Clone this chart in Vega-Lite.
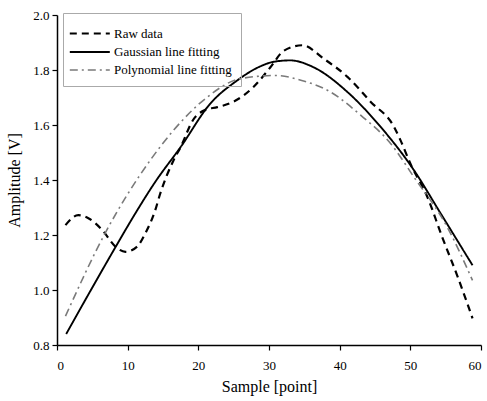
{
  "$schema": "https://vega.github.io/schema/vega-lite/v6.json",
  "width": 424,
  "height": 330,
  "autosize": {"type": "none"},
  "padding": {"left": 57, "top": 15, "right": 6, "bottom": 56},
  "background": "white",
  "config": {
    "view": {"stroke": null},
    "font": "Liberation Serif",
    "axis": {"grid": false, "domainColor": "black", "tickColor": "black", "labelColor": "black", "titleColor": "black", "labelFont": "Liberation Serif", "titleFont": "Liberation Serif", "titleFontWeight": "normal", "labelFontSize": 13, "titleFontSize": 16, "domainWidth": 1.5, "tickWidth": 1.2},
    "legend": {"labelFont": "Liberation Serif"}
  },
  "data": {"values": [
    {"series": "Raw data", "x": 1.2, "y": 1.236},
    {"series": "Raw data", "x": 3.0, "y": 1.272},
    {"series": "Raw data", "x": 4.5, "y": 1.26},
    {"series": "Raw data", "x": 6.4, "y": 1.218},
    {"series": "Raw data", "x": 8.3, "y": 1.157},
    {"series": "Raw data", "x": 9.7, "y": 1.139},
    {"series": "Raw data", "x": 11.3, "y": 1.157},
    {"series": "Raw data", "x": 12.5, "y": 1.206},
    {"series": "Raw data", "x": 13.9, "y": 1.29},
    {"series": "Raw data", "x": 14.6, "y": 1.35},
    {"series": "Raw data", "x": 16.5, "y": 1.472},
    {"series": "Raw data", "x": 17.5, "y": 1.52},
    {"series": "Raw data", "x": 19.3, "y": 1.62},
    {"series": "Raw data", "x": 21.0, "y": 1.655},
    {"series": "Raw data", "x": 22.7, "y": 1.665},
    {"series": "Raw data", "x": 25.0, "y": 1.685},
    {"series": "Raw data", "x": 27.8, "y": 1.738},
    {"series": "Raw data", "x": 30.2, "y": 1.81},
    {"series": "Raw data", "x": 32.1, "y": 1.87},
    {"series": "Raw data", "x": 34.7, "y": 1.89},
    {"series": "Raw data", "x": 37.8, "y": 1.84},
    {"series": "Raw data", "x": 41.1, "y": 1.775},
    {"series": "Raw data", "x": 44.4, "y": 1.684},
    {"series": "Raw data", "x": 47.7, "y": 1.593},
    {"series": "Raw data", "x": 48.6, "y": 1.545},
    {"series": "Raw data", "x": 50.0, "y": 1.46},
    {"series": "Raw data", "x": 52.4, "y": 1.339},
    {"series": "Raw data", "x": 54.5, "y": 1.193},
    {"series": "Raw data", "x": 56.7, "y": 1.048},
    {"series": "Raw data", "x": 58.8, "y": 0.897},
    {"series": "Gaussian line fitting", "x": 1.3, "y": 0.84},
    {"series": "Gaussian line fitting", "x": 4.8, "y": 1.0},
    {"series": "Gaussian line fitting", "x": 8.3, "y": 1.157},
    {"series": "Gaussian line fitting", "x": 11.0, "y": 1.275},
    {"series": "Gaussian line fitting", "x": 13.9, "y": 1.393},
    {"series": "Gaussian line fitting", "x": 17.5, "y": 1.52},
    {"series": "Gaussian line fitting", "x": 21.7, "y": 1.678},
    {"series": "Gaussian line fitting", "x": 25.5, "y": 1.762},
    {"series": "Gaussian line fitting", "x": 28.5, "y": 1.81},
    {"series": "Gaussian line fitting", "x": 30.7, "y": 1.83},
    {"series": "Gaussian line fitting", "x": 33.0, "y": 1.835},
    {"series": "Gaussian line fitting", "x": 36.3, "y": 1.81},
    {"series": "Gaussian line fitting", "x": 41.1, "y": 1.72},
    {"series": "Gaussian line fitting", "x": 45.8, "y": 1.593},
    {"series": "Gaussian line fitting", "x": 50.5, "y": 1.436},
    {"series": "Gaussian line fitting", "x": 54.3, "y": 1.278},
    {"series": "Gaussian line fitting", "x": 58.8, "y": 1.09},
    {"series": "Polynomial line fitting", "x": 1.2, "y": 0.905},
    {"series": "Polynomial line fitting", "x": 6.8, "y": 1.206},
    {"series": "Polynomial line fitting", "x": 13.2, "y": 1.472},
    {"series": "Polynomial line fitting", "x": 16.5, "y": 1.581},
    {"series": "Polynomial line fitting", "x": 21.2, "y": 1.70},
    {"series": "Polynomial line fitting", "x": 26.0, "y": 1.769},
    {"series": "Polynomial line fitting", "x": 31.0, "y": 1.78},
    {"series": "Polynomial line fitting", "x": 34.5, "y": 1.763},
    {"series": "Polynomial line fitting", "x": 38.7, "y": 1.72},
    {"series": "Polynomial line fitting", "x": 43.0, "y": 1.635},
    {"series": "Polynomial line fitting", "x": 47.2, "y": 1.533},
    {"series": "Polynomial line fitting", "x": 50.5, "y": 1.411},
    {"series": "Polynomial line fitting", "x": 55.2, "y": 1.23},
    {"series": "Polynomial line fitting", "x": 58.8, "y": 1.035}
  ]},
  "mark": {"type": "line", "interpolate": "monotone"},
  "encoding": {
    "x": {"field": "x", "type": "quantitative", "scale": {"domain": [0, 60], "nice": false}, "axis": {"title": "Sample [point]", "values": [0, 10, 20, 30, 40, 50, 60], "format": "d", "tickSize": 5, "labelPadding": 9, "titlePadding": 6, "labelFont": "Liberation Serif", "titleFont": "Liberation Serif"}},
    "y": {"field": "y", "type": "quantitative", "scale": {"domain": [0.8, 2.0], "nice": false, "zero": false}, "axis": {"title": "Amplitude [V]", "values": [0.8, 1.0, 1.2, 1.4, 1.6, 1.8, 2.0], "format": ".1f", "tickSize": 5, "labelPadding": 3, "titlePadding": 10, "labelFont": "Liberation Serif", "titleFont": "Liberation Serif"}},
    "color": {"field": "series", "type": "nominal", "scale": {"domain": ["Raw data", "Gaussian line fitting", "Polynomial line fitting"], "range": ["black", "black", "#7a7a7a"]}, "legend": {"title": null, "orient": "none", "legendX": 6, "legendY": -2, "symbolType": "M-1.37,0L2.63,0", "symbolSize": 400, "symbolStrokeWidth": 1.5, "labelFont": "Liberation Serif", "labelFontSize": 13, "labelColor": "black", "strokeColor": "#aaa", "padding": 9, "rowPadding": -0.5, "labelOffset": 19}},
    "strokeDash": {"field": "series", "type": "nominal", "scale": {"domain": ["Raw data", "Gaussian line fitting", "Polynomial line fitting"], "range": [[7, 5], [1, 0], [8, 4, 2, 4]]}},
    "strokeWidth": {"field": "series", "type": "nominal", "scale": {"domain": ["Raw data", "Gaussian line fitting", "Polynomial line fitting"], "range": [2.2, 1.6, 1.1]}}
  }
}
